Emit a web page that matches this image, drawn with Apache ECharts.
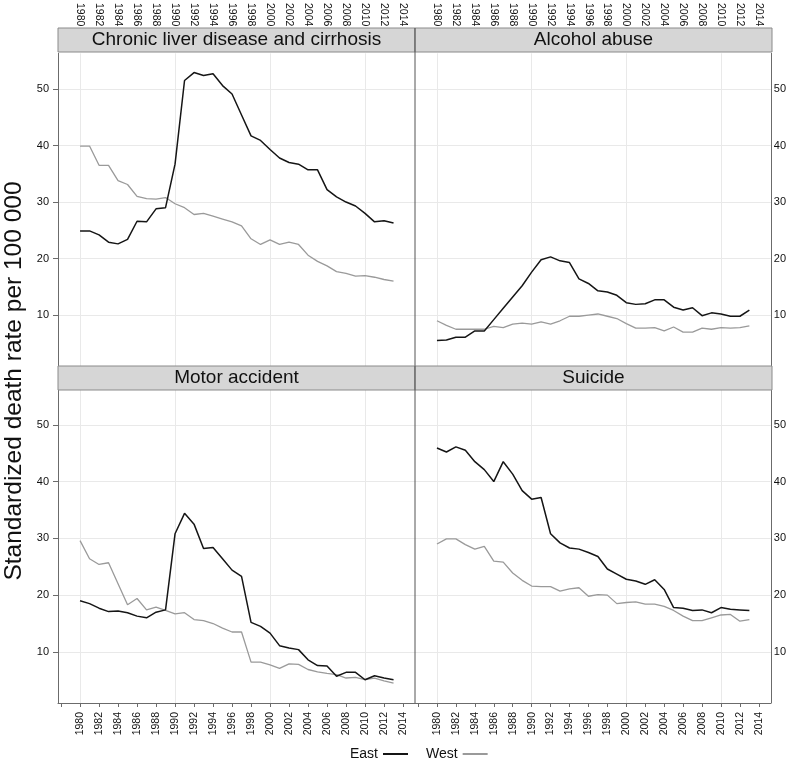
<!DOCTYPE html>
<html><head><meta charset="utf-8">
<script src="https://cdn.jsdelivr.net/npm/echarts@6/dist/echarts.min.js"></script>
<style>html,body{margin:0;padding:0;background:#fff}#c{width:789px;height:761px}</style>
</head><body><div id="c"></div>
<script>
const years = [1980,1981,1982,1983,1984,1985,1986,1987,1988,1989,1990,1991,1992,1993,1994,1995,1996,1997,1998,1999,2000,2001,2002,2003,2004,2005,2006,2007,2008,2009,2010,2011,2012,2013];
const panelTitles = ['Chronic liver disease and cirrhosis','Alcohol abuse','Motor accident','Suicide'];
const seriesNames = ['East','West'];

const liverEast = [24.9,24.9,24.2,22.9,22.6,23.4,26.6,26.5,28.8,29.0,36.7,51.5,52.9,52.4,52.7,50.6,49.1,45.4,41.7,40.9,39.3,37.8,37.0,36.7,35.7,35.7,32.2,30.9,30.0,29.3,28.0,26.5,26.7,26.3];
const liverWest = [39.9,39.9,36.5,36.5,33.8,33.1,31.0,30.6,30.5,30.8,29.7,29.0,27.8,28.0,27.5,27.0,26.5,25.8,23.5,22.5,23.3,22.5,22.9,22.5,20.6,19.5,18.7,17.7,17.4,16.9,17.0,16.7,16.3,16.0];
const alcoholEast = [5.5,5.6,6.1,6.1,7.2,7.2,9.2,11.2,13.2,15.2,17.6,19.8,20.3,19.6,19.3,16.4,15.6,14.3,14.1,13.5,12.2,11.9,12.0,12.7,12.7,11.4,10.9,11.3,9.9,10.4,10.2,9.8,9.8,10.9];
const alcoholWest = [9.0,8.2,7.5,7.5,7.5,7.5,8.0,7.8,8.4,8.6,8.4,8.8,8.4,9.0,9.8,9.8,10.0,10.2,9.8,9.4,8.5,7.7,7.7,7.8,7.2,7.9,7.0,7.0,7.7,7.5,7.8,7.7,7.8,8.1];
const motorEast = [19.0,18.5,17.7,17.1,17.2,16.9,16.3,16.0,17.0,17.4,30.8,34.4,32.5,28.2,28.4,26.4,24.4,23.3,15.2,14.5,13.3,11.1,10.7,10.4,8.6,7.6,7.5,5.7,6.4,6.4,5.1,5.8,5.4,5.1];
const motorWest = [29.6,26.4,25.4,25.7,22.0,18.3,19.4,17.4,17.9,17.3,16.7,16.9,15.7,15.5,15.0,14.2,13.5,13.5,8.2,8.2,7.7,7.1,7.9,7.8,6.9,6.5,6.2,6.0,5.4,5.5,5.1,5.4,4.9,4.5];
const suicideEast = [45.9,45.2,46.1,45.5,43.5,42.1,40.0,43.5,41.3,38.4,36.9,37.2,30.8,29.2,28.3,28.1,27.5,26.8,24.6,23.7,22.8,22.5,21.9,22.7,21.0,17.8,17.7,17.3,17.4,16.9,17.8,17.5,17.4,17.3];
const suicideWest = [29.0,29.9,29.9,28.9,28.1,28.6,26.0,25.8,23.9,22.6,21.6,21.5,21.5,20.7,21.1,21.3,19.8,20.1,20.0,18.5,18.7,18.8,18.4,18.4,18.0,17.3,16.3,15.5,15.5,16.0,16.5,16.6,15.4,15.7];

const xTickValues = [1978,1980,1982,1984,1986,1988,1990,1992,1994,1996,1998,2000,2002,2004,2006,2008,2010,2012,2014];
const xLabelValues = [1980,1982,1984,1986,1988,1990,1992,1994,1996,1998,2000,2002,2004,2006,2008,2010,2012,2014];
const xGridValues = [1980,1990,2000,2010];
const yTickValues = [10,20,30,40,50];

const panelEast = [liverEast, alcoholEast, motorEast, suicideEast];
const panelWest = [liverWest, alcoholWest, motorWest, suicideWest];

const FONT = '"Liberation Sans", Arial, Helvetica, sans-serif';
const X_MIN = 1977.68, X_MAX = 2015.26, Y_MIN = 1.0, Y_MAX = 56.3;
const gridBoxes = [
  {left: 58, top: 52, width: 357, height: 314},
  {left: 415, top: 52, width: 357, height: 314},
  {left: 58, top: 389, width: 357, height: 314},
  {left: 415, top: 389, width: 357, height: 314}
];
const AXIS_COLOR = '#6b6b6b';
const GRID_COLOR = '#e9e9e9';

const grid = [], xAxis = [], yAxis = [], series = [], graphic = [];
gridBoxes.forEach((g, i) => {
  grid.push({left: g.left, top: g.top, width: g.width, height: g.height, containLabel: false});
  const isTop = i < 2, isLeft = i % 2 === 0;
  xAxis.push({
    type: 'value', gridIndex: i, min: X_MIN, max: X_MAX,
    position: isTop ? 'top' : 'bottom',
    axisLine: {show: !isTop, onZero: false, lineStyle: {color: AXIS_COLOR, width: 1}},
    axisTick: {show: !isTop, length: 4, lineStyle: {color: AXIS_COLOR}, customValues: xTickValues},
    axisLabel: {show: true, rotate: 90, fontSize: 10.5, fontFamily: FONT, color: '#111',
      margin: isTop ? 27 : 9, customValues: xLabelValues, formatter: v => String(v)},
    splitLine: {show: false}
  });
  xAxis.push({
    type: 'value', gridIndex: i, min: X_MIN, max: X_MAX, position: 'bottom',
    axisLine: {show: false}, axisLabel: {show: false},
    axisTick: {show: false, customValues: xGridValues},
    splitLine: {show: true, lineStyle: {color: GRID_COLOR, width: 1}}
  });
  yAxis.push({
    type: 'value', gridIndex: i, min: Y_MIN, max: Y_MAX,
    position: isLeft ? 'left' : 'right',
    axisLine: {show: true, onZero: false, lineStyle: {color: AXIS_COLOR, width: 1}},
    axisTick: {show: isLeft, length: 5, lineStyle: {color: AXIS_COLOR}, customValues: yTickValues},
    axisLabel: {show: true, fontSize: 11, fontFamily: FONT, color: '#111', margin: isLeft ? 9 : 3,
      customValues: yTickValues},
    splitLine: {show: true, lineStyle: {color: GRID_COLOR, width: 1}}
  });
  const xi = i * 2;
  series.push({
    name: 'West', type: 'line', xAxisIndex: xi, yAxisIndex: i, showSymbol: false, symbol: 'none',
    data: years.map((y, k) => [y, panelWest[i][k]]),
    lineStyle: {color: '#9a9a9a', width: 1.3}, itemStyle: {color: '#9a9a9a'}, z: 3, silent: true
  });
  series.push({
    name: 'East', type: 'line', xAxisIndex: xi, yAxisIndex: i, showSymbol: false, symbol: 'none',
    data: years.map((y, k) => [y, panelEast[i][k]]),
    lineStyle: {color: '#151515', width: 1.5}, itemStyle: {color: '#151515'}, z: 4, silent: true
  });
  const sTop = isTop ? 28 : 366;
  graphic.push({type: 'rect', shape: {x: g.left, y: sTop, width: g.width, height: 24},
    style: {fill: '#d6d6d6', stroke: '#8a8a8a', lineWidth: 1}, z: 10});
  graphic.push({type: 'text', x: g.left + g.width / 2, y: sTop + 12,
    style: {text: panelTitles[i], font: '19px ' + FONT, fill: '#111', textAlign: 'center', textVerticalAlign: 'middle'}, z: 11});
});
graphic.push({type: 'line', shape: {x1: 415, y1: 28, x2: 415, y2: 703}, style: {stroke: '#555', lineWidth: 1}, z: 12});
graphic.push({type: 'text', x: 14, y: 381, rotation: Math.PI / 2,
  style: {text: 'Standardized death rate per 100 000', font: '24.5px ' + FONT, fill: '#111', textAlign: 'center', textVerticalAlign: 'middle'}, z: 11});

const chart = echarts.init(document.getElementById('c'), null, {renderer: 'canvas'});
chart.setOption({
  animation: false,
  backgroundColor: '#fff',
  textStyle: {fontFamily: FONT},
  grid, xAxis, yAxis, series, graphic,
  legend: {
    data: seriesNames, left: 345, top: 742, align: 'right', icon: 'rect',
    itemWidth: 25, itemHeight: 2, itemGap: 18,
    textStyle: {fontSize: 14, fontFamily: FONT, color: '#111', padding: [0, 0, 0, 0]}
  }
});
</script></body></html>
